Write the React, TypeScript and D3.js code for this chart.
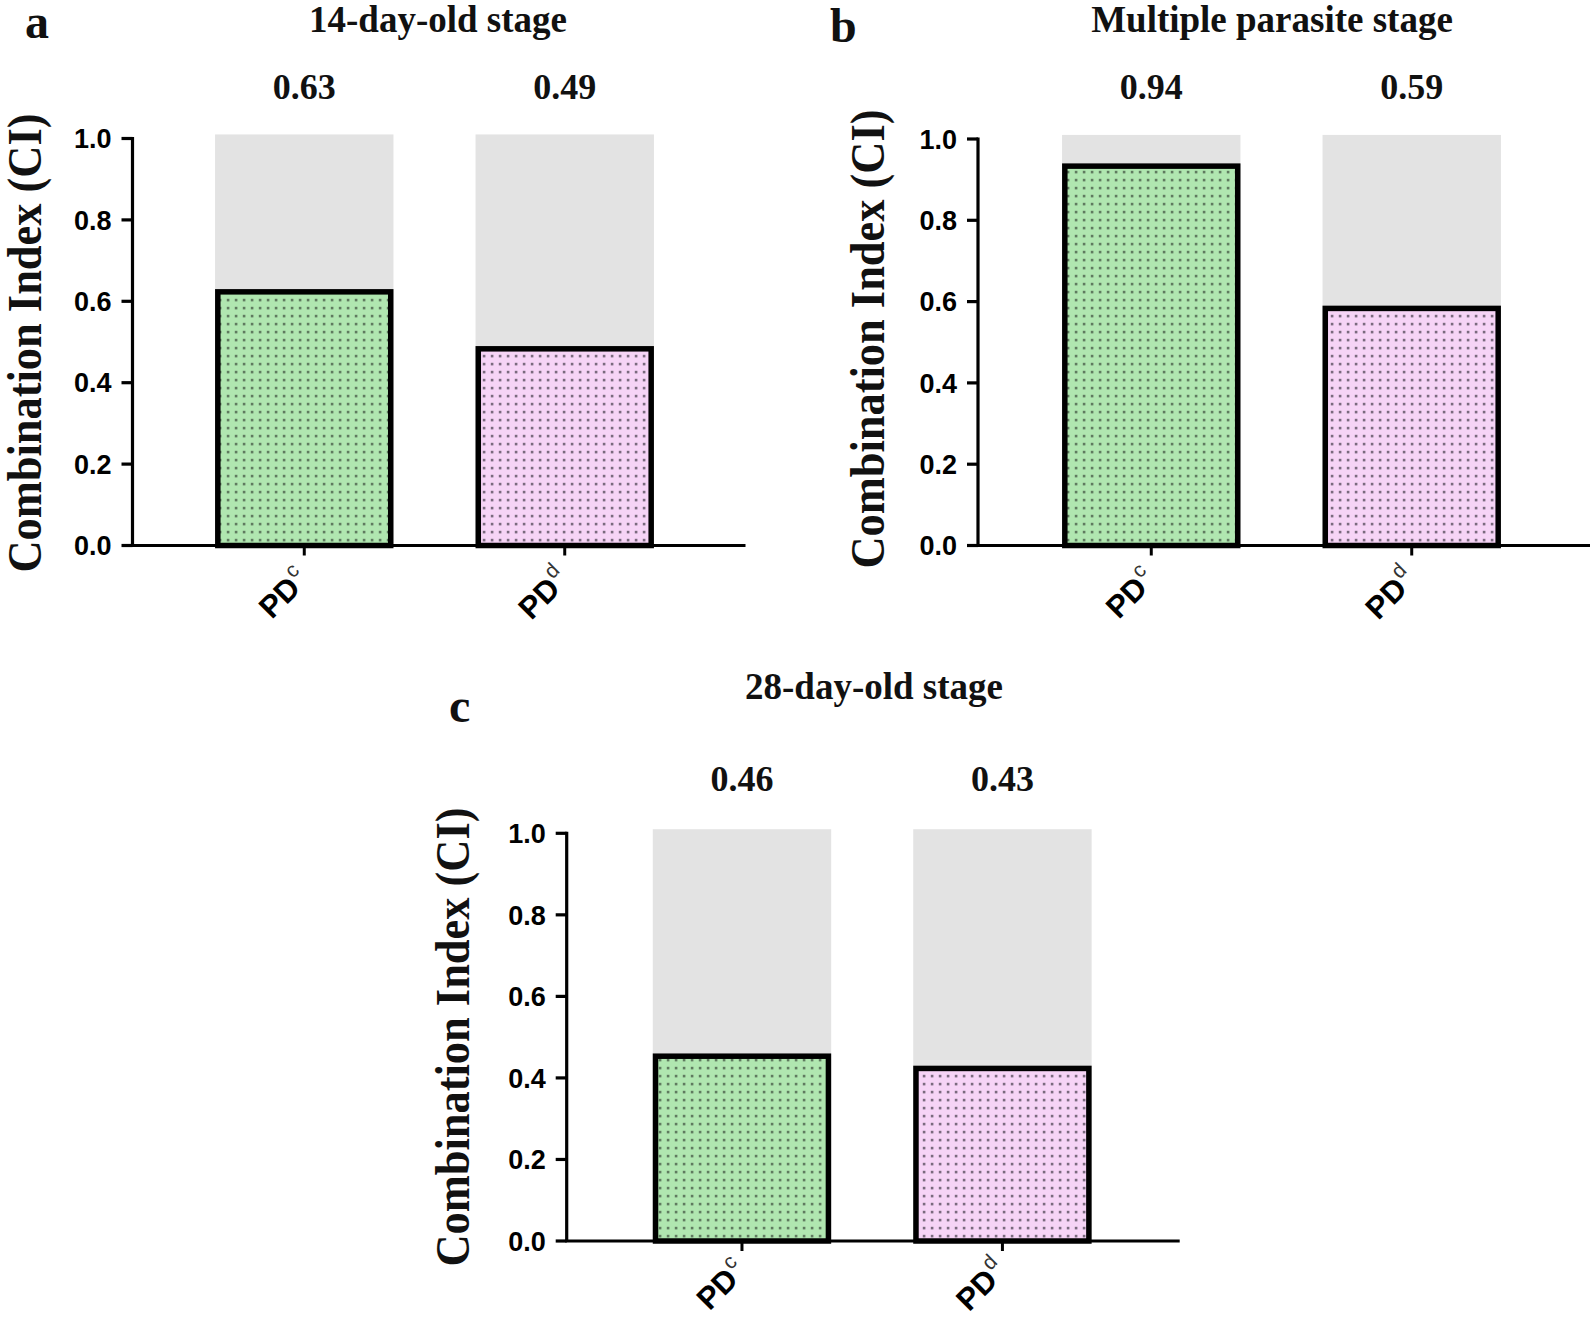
import React from "react";
import * as d3 from "d3";

const categoryBase = ["PD", "PD"];
const categorySup = ["c", "d"];
const valuesA = [0.63, 0.49];
const valuesB = [0.94, 0.59];
const valuesC = [0.46, 0.43];
const valueLabelsA = ["0.63", "0.49"];
const valueLabelsB = ["0.94", "0.59"];
const valueLabelsC = ["0.46", "0.43"];
const panelTitles = ["14-day-old stage", "Multiple parasite stage", "28-day-old stage"];
const panelLetters = ["a", "b", "c"];
const yTicks = [0, 0.2, 0.4, 0.6, 0.8, 1.0];
const backgroundValue = 1.01;
const yAxisTitle = "Combination Index (CI)";

const layouts = [
  { x0: 132.5, padL: 0, yBottom: 545.5, yTop: 138.5, titleX: 438, titleY: 32, letterX: 25, letterY: 38, valueY: 99, yTitleX: 41, yTitleCY: 343, tickLabelDy: 36 },
  { x0: 978, padL: 1.5, yBottom: 545.5, yTop: 139, titleX: 1272, titleY: 32, letterX: 830, letterY: 42, valueY: 99, yTitleX: 884, yTitleCY: 339, tickLabelDy: 36 },
  { x0: 566.7, padL: 3.5, yBottom: 1241, yTop: 833.3, titleX: 874, titleY: 699, letterX: 449, letterY: 722, valueY: 791, yTitleX: 469, yTitleCY: 1037, tickLabelDy: 32 },
];

const panelValues = [valuesA, valuesB, valuesC];
const panelValueLabels = [valueLabelsA, valueLabelsB, valueLabelsC];
const fills = ["url(#dotsGreen)", "url(#dotsPink)"];

const SERIF = "'Liberation Serif', 'Times New Roman', serif";
const SANS = "'Liberation Sans', Arial, sans-serif";

function Panel({ idx }: { idx: number }) {
  const L = layouts[idx];
  const vals = panelValues[idx];
  const labels = panelValueLabels[idx];
  const cats = categorySup.map((s, i) => categoryBase[i] + s);
  const x = d3
    .scaleBand<string>()
    .domain(cats)
    .range([L.x0 + L.padL, L.x0 + L.padL + 604])
    .paddingInner(0.315)
    .paddingOuter(0.317);
  const y = d3.scaleLinear().domain([0, 1]).range([L.yBottom, L.yTop]);
  const sw = 5.5;
  const axisEnd = L.x0 + 613;
  return (
    <g>
      <text x={L.letterX} y={L.letterY} fontFamily={SERIF} fontWeight="bold" fontSize={48} fill="#111">
        {panelLetters[idx]}
      </text>
      <text x={L.titleX} y={L.titleY} textAnchor="middle" fontFamily={SERIF} fontWeight="bold" fontSize={37} fill="#111">
        {panelTitles[idx]}
      </text>
      <text
        transform={`translate(${L.yTitleX},${L.yTitleCY}) rotate(-90)`}
        textAnchor="middle"
        fontFamily={SERIF}
        fontWeight="bold"
        fontSize={48}
        textLength={459}
        lengthAdjust="spacingAndGlyphs"
        fill="#111"
      >
        {yAxisTitle}
      </text>
      {cats.map((c, i) => {
        const bx = x(c)!;
        const bw = x.bandwidth();
        return (
          <g key={c}>
            <rect x={bx} y={y(backgroundValue)} width={bw} height={L.yBottom - y(backgroundValue)} fill="#e3e3e3" />
            <rect
              x={bx + sw / 2}
              y={y(vals[i]) + sw / 2}
              width={bw - sw}
              height={L.yBottom - y(vals[i]) - sw / 2}
              fill={fills[i]}
              stroke="#000"
              strokeWidth={sw}
            />
            <text x={bx + bw / 2} y={L.valueY} textAnchor="middle" fontFamily={SERIF} fontWeight="bold" fontSize={36} fill="#111">
              {labels[i]}
            </text>
            <line x1={bx + bw / 2} x2={bx + bw / 2} y1={L.yBottom} y2={L.yBottom + 10} stroke="#000" strokeWidth={3} />
            <text
              transform={`translate(${bx + bw / 2 + 6},${L.yBottom + L.tickLabelDy}) rotate(-45)`}
              textAnchor="end"
              fontFamily={SANS}
              fontWeight="bold"
              fontSize={31}
              fill="#000"
            >
              {categoryBase[i]}
              <tspan fontSize={21} fontWeight="normal" dy={-14} dx={1} fill="#333">
                {categorySup[i]}
              </tspan>
            </text>
          </g>
        );
      })}
      <line x1={L.x0 - 1.5} x2={axisEnd} y1={L.yBottom} y2={L.yBottom} stroke="#000" strokeWidth={3.2} />
      <line x1={L.x0} x2={L.x0} y1={y(1) - 1.5} y2={L.yBottom} stroke="#000" strokeWidth={3.2} />
      {yTicks.map((t) => (
        <g key={t}>
          <line x1={L.x0 - 11} x2={L.x0} y1={y(t)} y2={y(t)} stroke="#000" strokeWidth={3.2} />
          <text x={L.x0 - 21} y={y(t)} dy="0.36em" textAnchor="end" fontFamily={SANS} fontWeight="bold" fontSize={27} fill="#000">
            {d3.format(".1f")(t)}
          </text>
        </g>
      ))}
    </g>
  );
}

export default function App() {
  return (
    <svg
      width={1590}
      height={1320}
      viewBox="0 0 1590 1320"
      style={{ position: "absolute", left: 0, top: 0, background: "#fff" }}
    >
      <defs>
        <pattern id="dotsGreen" width={8} height={8} patternUnits="userSpaceOnUse">
          <rect width={8} height={8} fill="#b0e6b0" />
          <rect x={2.8} y={2.8} width={2.6} height={2.6} fill="#5f7a5f" />
        </pattern>
        <pattern id="dotsPink" width={8} height={8} patternUnits="userSpaceOnUse">
          <rect width={8} height={8} fill="#f6d4f6" />
          <rect x={2.8} y={2.8} width={2.6} height={2.6} fill="#7a6a7e" />
        </pattern>
      </defs>
      <rect width={1590} height={1320} fill="#fff" />
      {[0, 1, 2].map((i) => (
        <Panel key={i} idx={i} />
      ))}
    </svg>
  );
}
